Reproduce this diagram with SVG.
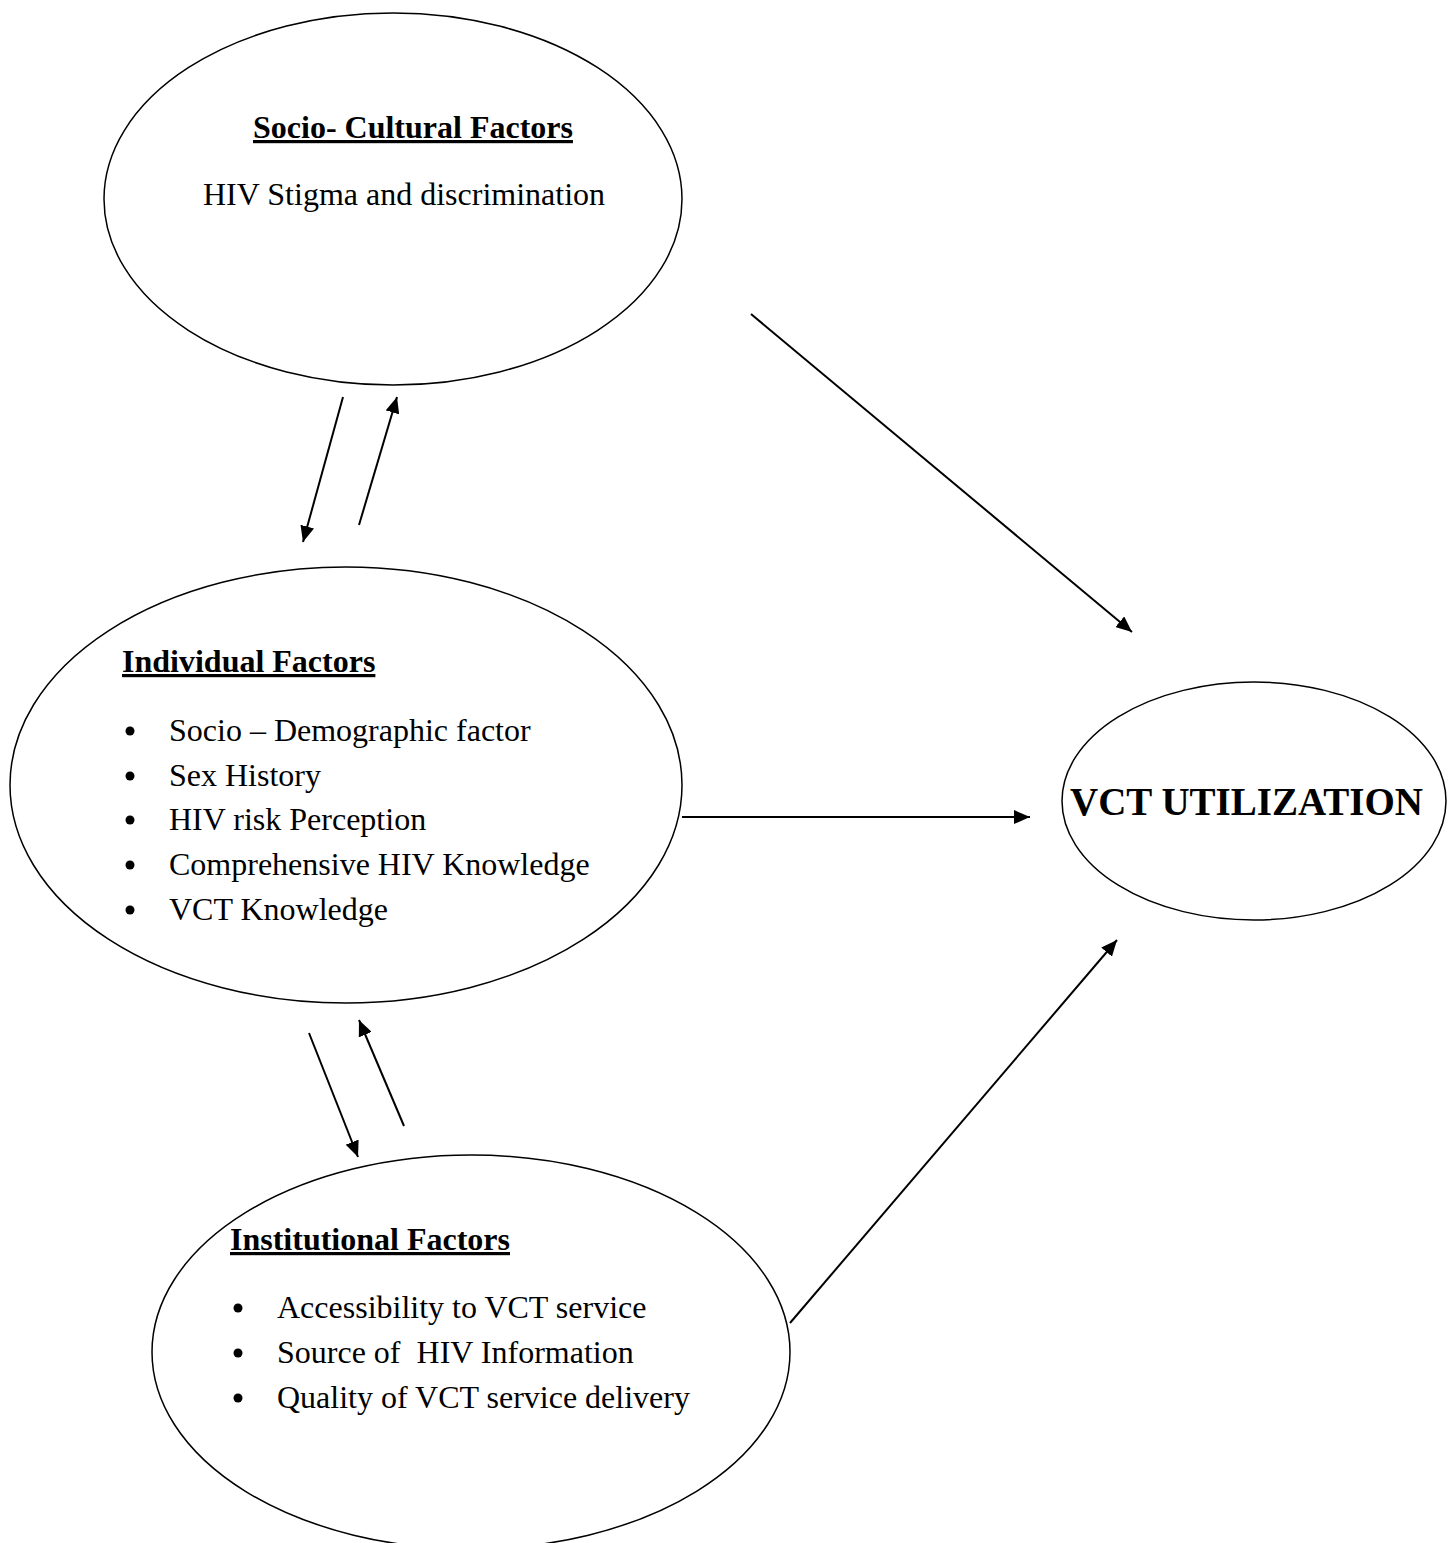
<svg xmlns="http://www.w3.org/2000/svg" width="1453" height="1543" viewBox="0 0 1453 1543">
<style>
.node{fill:none;stroke:#000;stroke-width:1.5}
.t{font-family:"Liberation Serif","Times New Roman",serif;font-size:32px;fill:#000}
.h{font-weight:bold;text-decoration:underline}
.c{stroke:#000;stroke-width:2;fill:none;marker-end:url(#ah)}
.b{fill:#000}
</style>
<defs>
<marker id="ah" viewBox="0 0 16 14" refX="16" refY="7" markerWidth="16" markerHeight="14" markerUnits="userSpaceOnUse" orient="auto">
<path d="M0,0 L16,7 L0,14 z" fill="#000"/>
</marker>
</defs>
<rect width="1453" height="1543" fill="#fff"/>
<g id="socio-cultural">
<ellipse class="node" cx="393" cy="199" rx="289" ry="186"/>
<text class="t h" x="253" y="138">Socio- Cultural Factors</text>
<text class="t" x="203" y="205">HIV Stigma and discrimination</text>
</g>
<g id="individual">
<ellipse class="node" cx="346" cy="785" rx="336" ry="218"/>
<text class="t h" x="122" y="672">Individual Factors</text>
<circle class="b" cx="130" cy="731" r="4.5"/>
<circle class="b" cx="130" cy="776" r="4.5"/>
<circle class="b" cx="130" cy="820" r="4.5"/>
<circle class="b" cx="130" cy="865" r="4.5"/>
<circle class="b" cx="130" cy="910" r="4.5"/>
<g class="t">
<text x="169" y="741">Socio – Demographic factor</text>
<text x="169" y="786">Sex History</text>
<text x="169" y="830">HIV risk Perception</text>
<text x="169" y="875">Comprehensive HIV Knowledge</text>
<text x="169" y="920">VCT Knowledge</text>
</g>
</g>
<g id="institutional">
<ellipse class="node" cx="471" cy="1352" rx="319" ry="197"/>
<text class="t h" x="230" y="1250">Institutional Factors</text>
<circle class="b" cx="238" cy="1308" r="4.5"/>
<circle class="b" cx="238" cy="1353" r="4.5"/>
<circle class="b" cx="238" cy="1398" r="4.5"/>
<g class="t">
<text x="277" y="1318">Accessibility to VCT service</text>
<text x="277" y="1363" xml:space="preserve">Source of  HIV Information</text>
<text x="277" y="1408">Quality of VCT service delivery</text>
</g>
</g>
<g id="vct">
<ellipse class="node" cx="1254" cy="801" rx="192" ry="119"/>
<text class="t" x="1070" y="815" style="font-weight:bold;font-size:39px">VCT UTILIZATION</text>
</g>
<g id="connectors">
<line class="c" x1="343" y1="397" x2="303" y2="542"/>
<line class="c" x1="359" y1="525" x2="397" y2="397"/>
<line class="c" x1="309" y1="1033" x2="358" y2="1157"/>
<line class="c" x1="404" y1="1126" x2="359" y2="1020"/>
<line class="c" x1="682" y1="817" x2="1030" y2="817"/>
<line class="c" x1="751" y1="314" x2="1132" y2="632"/>
<line class="c" x1="790" y1="1323" x2="1117" y2="940"/>
</g>
</svg>
